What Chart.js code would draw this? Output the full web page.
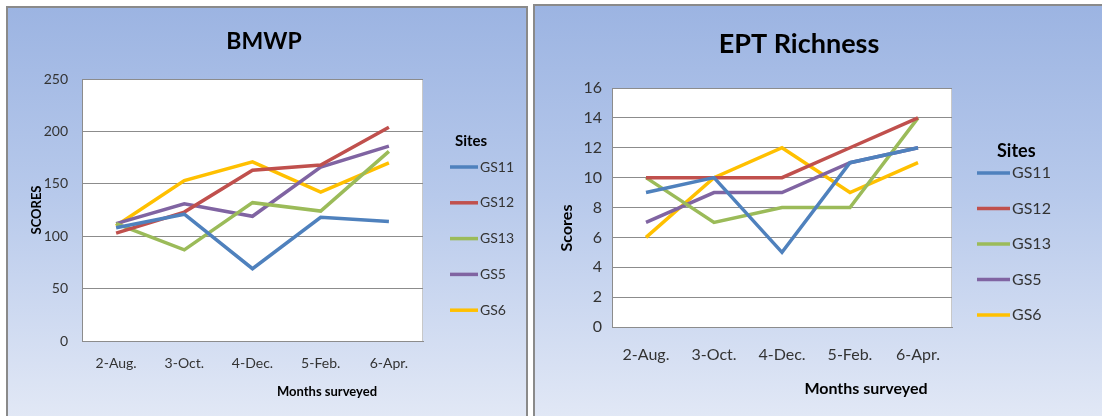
<!DOCTYPE html>
<html>
<head>
<meta charset="utf-8">
<script src="https://cdn.jsdelivr.net/npm/chart.js@4.4.0/dist/chart.umd.min.js"></script>
<style>
  html, body { margin: 0; padding: 0; background: #ffffff; }
  body { width: 1102px; height: 416px; position: relative; overflow: hidden; }
  .panel {
    position: absolute; box-sizing: border-box;
    border: 2px solid #8a8a8a;
    background: linear-gradient(to bottom, #9cb4e2 0%, #b7c9eb 45%, #e3e9f6 100%);
  }
  canvas { position: absolute; top: 0; }
</style>
</head>
<body>
<div class="panel" style="left:6px; top:6px; width:522px; height:420px;"></div>
<div class="panel" style="left:533px; top:4px; width:580px; height:424px;"></div>
<canvas id="bmwp" width="530" height="416" style="left:0px;"></canvas>
<canvas id="ept" width="572" height="416" style="left:530px;"></canvas>
<script>
// Survey months and sampling sites
const months = ['2-Aug.', '3-Oct.', '4-Dec.', '5-Feb.', '6-Apr.'];
const sites = ['GS11', 'GS12', 'GS13', 'GS5', 'GS6'];
const siteColors = ['#4f81bd', '#c0504d', '#9bbb59', '#8064a2', '#ffc000'];

// BMWP scores per site
const bmwpGS11 = [108, 121, 69, 118, 114];
const bmwpGS12 = [103, 123, 163, 168, 204];
const bmwpGS13 = [112, 87, 132, 124, 181];
const bmwpGS5  = [112, 131, 119, 166, 186];
const bmwpGS6  = [110, 153, 171, 142, 170];

// EPT richness per site
const eptGS11 = [9, 10, 5, 11, 12];
const eptGS12 = [10, 10, 10, 12, 14];
const eptGS13 = [10, 7, 8, 8, 14];
const eptGS5  = [7, 9, 9, 11, 12];
const eptGS6  = [6, 10, 12, 9, 11];

const FONT = 'Lato, "Open Sans", sans-serif';

function makeDatasets(series) {
  return series.map((values, i) => ({
    label: sites[i],
    data: values,
    borderColor: siteColors[i],
    backgroundColor: siteColors[i],
    borderWidth: 3.5,
    pointRadius: 0,
    tension: 0,
    fill: false
  }));
}

// Draws the white plot area, the titles and the side legend
const decor = {
  id: 'decor',
  beforeDraw(chart, args, o) {
    const a = chart.chartArea;
    const ctx = chart.ctx;
    ctx.save();
    ctx.fillStyle = '#ffffff';
    ctx.fillRect(a.left, a.top, a.right - a.left, a.bottom - a.top);
    ctx.strokeStyle = '#c8c8c8';
    ctx.lineWidth = 1;
    ctx.strokeRect(a.left + 0.5, a.top + 0.5, a.right - a.left - 1, a.bottom - a.top);
    ctx.restore();
  },
  afterDraw(chart, args, o) {
    const ctx = chart.ctx;
    ctx.save();
    ctx.fillStyle = '#000000';
    ctx.textAlign = 'center';
    ctx.textBaseline = 'alphabetic';
    // chart title
    ctx.font = 'bold ' + o.titleSize + 'px ' + FONT;
    ctx.fillText(o.title, o.titleX, o.titleY);
    // x axis title
    ctx.font = 'bold ' + o.xTitleSize + 'px ' + FONT;
    ctx.textBaseline = 'middle';
    ctx.fillText(o.xTitle, o.xTitleX, o.xTitleY);
    // y axis title
    ctx.save();
    ctx.translate(o.yTitleX, o.yTitleY);
    ctx.rotate(-Math.PI / 2);
    ctx.font = 'bold ' + o.yTitleSize + 'px ' + FONT;
    ctx.fillText(o.yTitle, 0, 0);
    ctx.restore();
    // legend
    ctx.textAlign = 'left';
    ctx.font = 'bold ' + o.legTitleSize + 'px ' + FONT;
    ctx.fillText('Sites', o.legTitleX, o.legTitleY);
    ctx.font = o.legSize + 'px ' + FONT;
    chart.data.datasets.forEach((ds, i) => {
      const y = o.legY0 + i * o.legStep;
      ctx.strokeStyle = ds.borderColor;
      ctx.lineWidth = 3.5;
      ctx.beginPath();
      ctx.moveTo(o.legX0, y);
      ctx.lineTo(o.legX1, y);
      ctx.stroke();
      ctx.fillStyle = '#333333';
      ctx.fillText(ds.label, o.legX1 + 2, y);
    });
    ctx.restore();
  }
};

function makeChart(id, series, yMax, yStep, cfg) {
  return new Chart(document.getElementById(id), {
    type: 'line',
    data: { labels: months, datasets: makeDatasets(series) },
    plugins: [decor],
    options: {
      responsive: false,
      animation: false,
      devicePixelRatio: 1,
      layout: { padding: cfg.padding },
      plugins: {
        legend: { display: false },
        tooltip: { enabled: false },
        title: { display: false },
        decor: cfg.decor
      },
      scales: {
        x: {
          offset: true,
          grid: { display: false, drawTicks: false },
          border: { display: true, color: '#8c8c8c', width: 1 },
          ticks: { color: '#333333', padding: cfg.xPad, font: { family: FONT, size: cfg.tickSize } },
          afterFit(s) { s.height = 40; }
        },
        y: {
          min: 0, max: yMax,
          grid: { color: '#8c8c8c', lineWidth: 1, drawTicks: false },
          border: { display: true, color: '#8c8c8c', width: 1 },
          ticks: { stepSize: yStep, color: '#333333', padding: cfg.yPad, font: { family: FONT, size: cfg.tickSize } },
          afterFit(s) { s.width = 40; }
        }
      }
    }
  });
}

makeChart('bmwp', [bmwpGS11, bmwpGS12, bmwpGS13, bmwpGS5, bmwpGS6], 250, 50, {
  padding: { left: 42, right: 107, top: 79, bottom: 35 },
  xPad: 14, yPad: 14, tickSize: 14,
  decor: {
    title: 'BMWP', titleSize: 23, titleX: 264, titleY: 49,
    xTitle: 'Months surveyed', xTitleSize: 13, xTitleX: 327, xTitleY: 392,
    yTitle: 'SCORES', yTitleSize: 13, yTitleX: 37, yTitleY: 210,
    legTitleSize: 15, legTitleX: 455, legTitleY: 141,
    legSize: 14, legX0: 450, legX1: 478, legY0: 167, legStep: 35.8
  }
});

makeChart('ept', [eptGS11, eptGS12, eptGS13, eptGS5, eptGS6], 16, 2, {
  padding: { left: 42, right: 150, top: 88, bottom: 49 },
  xPad: 18, yPad: 10, tickSize: 16,
  decor: {
    title: 'EPT Richness', titleSize: 27, titleX: 269, titleY: 53,
    xTitle: 'Months surveyed', xTitleSize: 16, xTitleX: 336, xTitleY: 389,
    yTitle: 'Scores', yTitleSize: 16, yTitleX: 37, yTitleY: 228,
    legTitleSize: 18, legTitleX: 467, legTitleY: 151,
    legSize: 16, legX0: 447, legX1: 480, legY0: 173, legStep: 35.5
  }
});
</script>
</body>
</html>
